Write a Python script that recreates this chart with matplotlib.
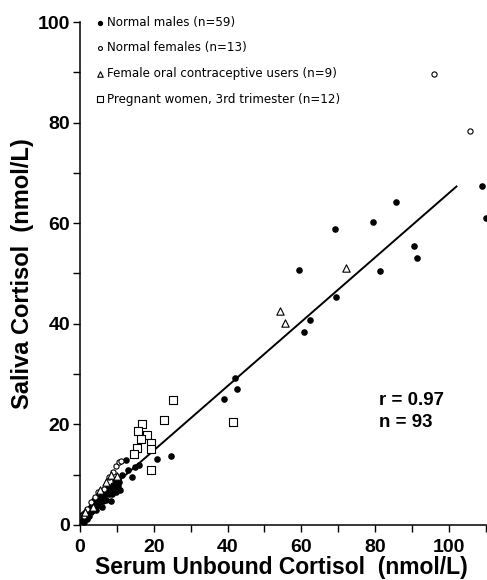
import matplotlib
matplotlib.use('Agg')
import matplotlib.pyplot as plt
from matplotlib.ticker import MultipleLocator
from matplotlib import font_manager

# serum unbound vs saliva cortisol (nmol/L)
males_x = [109.0, 110.0, 85.7, 79.5, 69.0, 59.4, 90.6, 91.4, 81.2, 69.5, 62.3, 60.8,
           42.1, 42.6, 39.0, 24.8, 20.8,
           0.5, 0.8, 1.2, 1.5, 1.8, 2.2, 2.5, 2.8, 3.0, 3.3, 3.6, 3.8, 4.0, 4.3,
           4.6, 4.9, 5.2, 5.5, 5.8, 6.0, 6.3, 6.6, 7.0, 7.2, 7.5, 7.8, 8.2, 8.5,
           8.8, 9.0, 9.3, 9.6, 9.9, 10.2, 10.5, 10.8, 11.5, 12.4, 13.0, 14.0, 15.0, 15.9]
males_y = [67.3, 61.0, 64.2, 60.3, 58.8, 50.7, 55.4, 53.1, 50.5, 45.4, 40.8, 38.3,
           29.3, 27.0, 25.0, 13.7, 13.2,
           0.8, 1.5, 0.6, 2.0, 1.2, 2.8, 1.8, 3.3, 2.5, 4.0, 3.0, 5.0, 3.8, 2.9,
           4.5, 5.8, 4.0, 5.2, 6.3, 3.6, 4.8, 5.8, 6.8, 5.0, 7.5, 6.2, 7.0, 4.8,
           6.1, 8.0, 7.0, 9.0, 6.5, 7.7, 8.5, 7.0, 10.0, 13.0, 11.0, 9.6, 11.5, 12.0]

females_x = [95.8, 105.7, 1.0, 2.0, 3.0, 4.0, 5.0, 6.5, 8.0, 9.0, 9.8, 10.5, 11.2]
females_y = [89.7, 78.4, 1.8, 3.2, 4.6, 5.5, 6.5, 7.2, 9.5, 10.5, 11.8, 12.5, 12.8]

oc_x = [72.1, 54.1, 55.5, 1.5, 3.5, 5.5, 7.0, 8.5, 10.0]
oc_y = [51.0, 42.5, 40.2, 2.5, 3.5, 7.0, 8.5, 10.0, 9.8]

preg_x = [25.2, 22.8, 41.5, 16.7, 15.8, 18.1, 16.5, 19.2, 15.6, 19.2, 19.2, 14.7]
preg_y = [24.9, 20.9, 20.5, 20.1, 18.6, 17.8, 17.0, 16.3, 15.3, 15.0, 11.0, 14.0]

fit_x = [0, 102]
fit_y = [2.0, 67.3]

labels = ['Normal males (n=59)', 'Normal females (n=13)',
          'Female oral contraceptive users (n=9)',
          'Pregnant women, 3rd trimester (n=12)']

narrow = 'Liberation Sans Narrow'
names = {f.name for f in font_manager.fontManager.ttflist}
if narrow not in names:
    narrow = 'DejaVu Sans'

plt.rcParams['font.family'] = ['Liberation Sans', 'DejaVu Sans']

fig = plt.figure(figsize=(4.87, 5.8), dpi=100)
ax = fig.add_axes([0.164, 0.095, 0.834, 0.867])

ax.plot(fit_x, fit_y, color='black', lw=1.4, zorder=1)
ax.scatter(males_x, males_y, s=14, color='black', marker='o', label=labels[0], zorder=3)
ax.scatter(females_x, females_y, s=14, facecolor='white', edgecolor='black',
           linewidth=0.8, marker='o', label=labels[1], zorder=3)
ax.scatter(oc_x, oc_y, s=28, facecolor='white', edgecolor='black',
           linewidth=0.8, marker='^', label=labels[2], zorder=3)
ax.scatter(preg_x, preg_y, s=30, facecolor='white', edgecolor='black',
           linewidth=0.8, marker='s', label=labels[3], zorder=3)

ax.set_xlim(0, 110)
ax.set_ylim(0, 100)
ax.xaxis.set_major_locator(MultipleLocator(20))
ax.xaxis.set_minor_locator(MultipleLocator(10))
ax.yaxis.set_major_locator(MultipleLocator(20))
ax.yaxis.set_minor_locator(MultipleLocator(10))
for s in ['top', 'right']:
    ax.spines[s].set_visible(False)
ax.spines['left'].set_linewidth(1.1)
ax.spines['bottom'].set_linewidth(1.1)
ax.tick_params(which='both', direction='out', length=5, width=1.0)
ax.tick_params(labelsize=14)
ax.tick_params(axis='x', pad=5)
ax.tick_params(axis='y', pad=2)
for t in ax.get_xticklabels() + ax.get_yticklabels():
    t.set_fontweight('bold')

ax.set_xlabel('Serum Unbound Cortisol  (nmol/L)', fontsize=16.5, fontweight='bold')
ax.xaxis.set_label_coords(0.497, -0.062)
ax.set_ylabel('Saliva Cortisol  (nmol/L)', fontsize=17, fontweight='bold', labelpad=3)

ax.text(81, 18.6, 'r = 0.97\nn = 93', fontsize=13.5, fontweight='bold', va='bottom',
        linespacing=1.4)

ax.legend(loc='upper left', bbox_to_anchor=(0.02, 1.024), frameon=False,
          prop={'family': narrow, 'size': 8.6}, handletextpad=0.1,
          labelspacing=1.05, markerscale=0.75, handlelength=1.0, borderpad=0)

fig.savefig('out.png', dpi=100)
